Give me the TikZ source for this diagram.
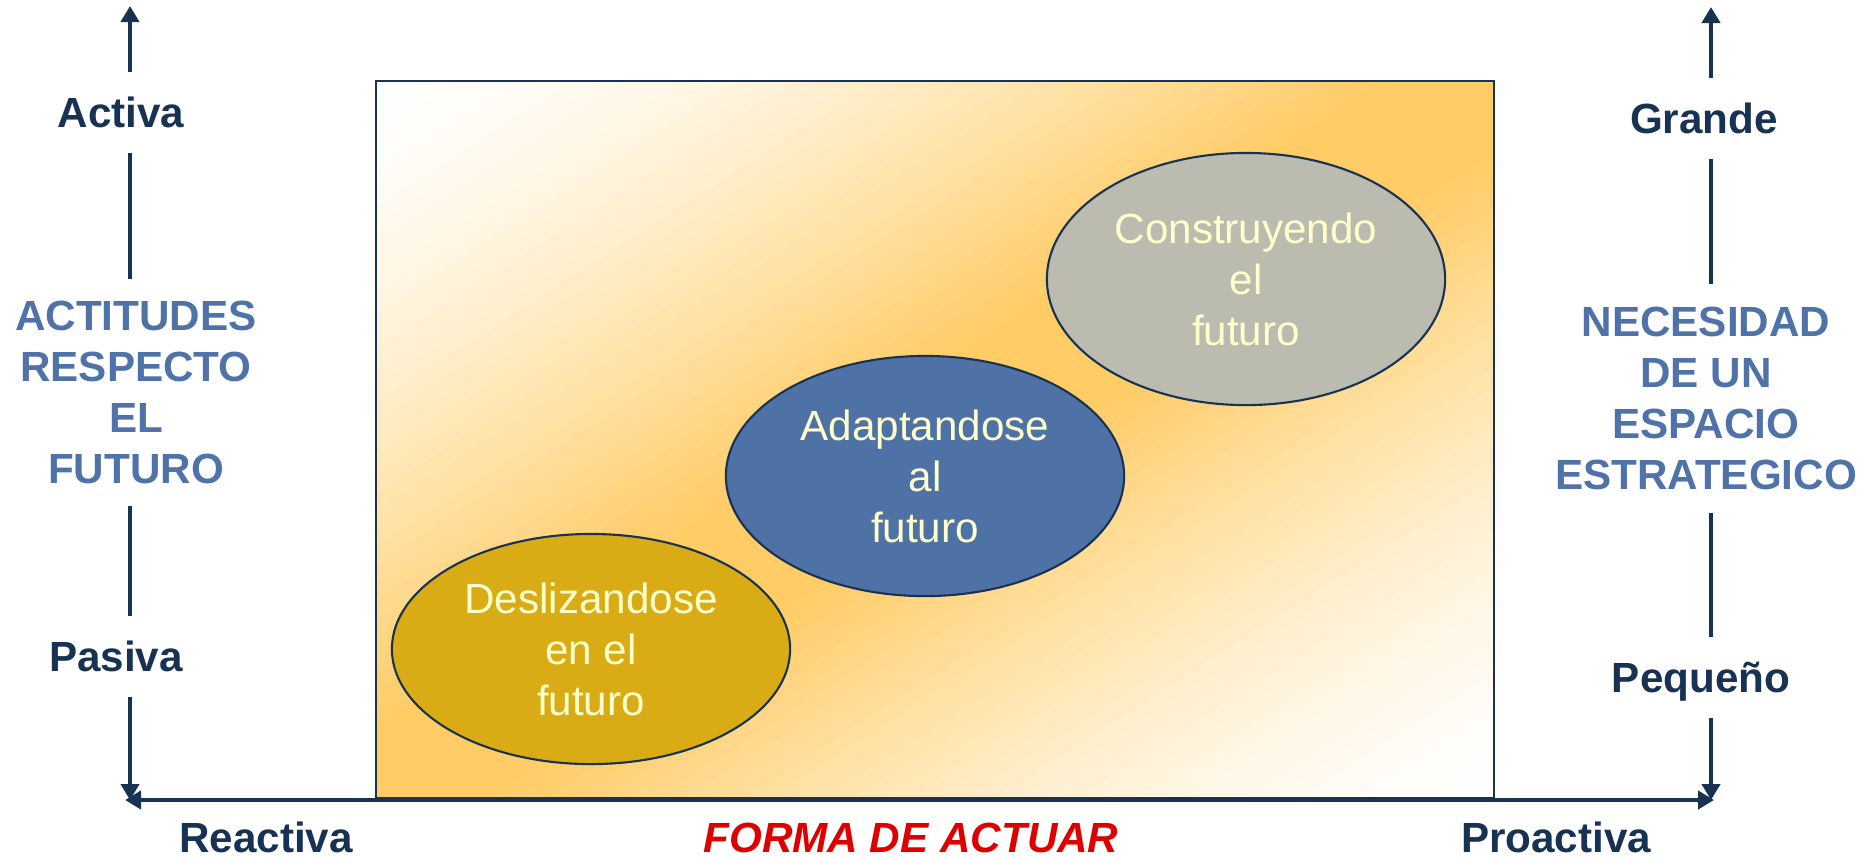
\documentclass[tikz,border=0pt]{standalone}
\usepackage{fontspec}
\setmainfont{Liberation Sans}
\usetikzlibrary{arrows.meta,shapes.geometric}
\definecolor{navy}{HTML}{173252}
\definecolor{titleblue}{HTML}{4F72A8}
\definecolor{bandorange}{HTML}{FFCC66}
\definecolor{ovalyellow}{HTML}{D9AC16}
\definecolor{ovalblue}{HTML}{4F72A6}
\definecolor{ovalgray}{HTML}{BBBBB0}
\definecolor{ovaltext}{HTML}{FFFFCC}
\definecolor{actred}{HTML}{DD0000}
\tikzset{
  axis/.style={navy, line width=1.4pt, >={Triangle[width=0.18cm,length=0.16cm]}},
  lab/.style={font=\bfseries\fontsize{12}{14.5}\selectfont, text=navy, inner sep=0pt, text height=0.3cm, text depth=0pt},
  ttl/.style={font=\bfseries\fontsize{12}{14.5}\selectfont, text=titleblue, align=center, inner sep=0pt},
  oval/.style={ellipse, draw=navy, line width=0.6pt, inner sep=0pt, minimum width=3.98cm, text=ovaltext, align=center, font=\fontsize{12}{14.5}\selectfont}
}
\begin{document}
\begin{tikzpicture}[x=0.01cm, y=-0.01cm]
  \useasboundingbox (0,0) rectangle (1874,856);
  % degradado en diagonal: blanco - naranja - blanco
  \begin{scope}[shift={(376,81)}, x=11.18cm, y=-7.17cm]
    \clip (0,0) rectangle (1,1);
    \foreach \i in {0,...,79} {
      \pgfmathsetmacro\ca{\i/40}
      \pgfmathsetmacro\cb{(\i+1)/40+0.01}
      \pgfmathsetmacro\pct{100*pow(min(1,(1-abs((\i+0.5)/40-1))/0.9),1.5)}
      \fill[bandorange!\pct!white] (\ca+2,-2) -- (\cb+2,-2) -- (\cb-2,2) -- (\ca-2,2) -- cycle;
    }
  \end{scope}
  \node[draw=navy, line width=0.6pt, inner sep=0pt, minimum width=11.18cm, minimum height=7.17cm] (plano) at (935,439.5) {};
  \node[oval, fill=ovalyellow, minimum height=2.30cm] (desliz) at (591,649) {Deslizandose\\en el\\futuro};
  \node[oval, fill=ovalblue, minimum height=2.40cm] (adapt) at (925,476) {Adaptandose\\al\\futuro};
  \node[oval, fill=ovalgray, minimum height=2.52cm] (constr) at (1246,279) {Construyendo\\el\\futuro};
  % eje izquierdo
  \coordinate (lTop) at (130,6);
  \coordinate (lBot) at (130,800);
  \node[lab, minimum height=0.79cm] (activa) at (121,112.5) {Activa};
  \node[ttl, minimum height=2.25cm] (actitudes) at (136,392.5) {ACTITUDES\\RESPECTO\\EL\\FUTURO};
  \node[lab, minimum height=0.79cm] (pasiva) at (116,656.5) {Pasiva};
  \draw[axis,->] (activa.north -| lTop) -- (lTop);
  \draw[axis] (activa.south -| lTop) -- (actitudes.north -| lTop);
  \draw[axis] (actitudes.south -| lTop) -- (pasiva.north -| lTop);
  \draw[axis,->] (pasiva.south -| lTop) -- (lBot);
  % eje derecho
  \coordinate (rTop) at (1711,7);
  \coordinate (rBot) at (1711,800);
  \node[lab, minimum height=0.79cm] (grande) at (1704,118.5) {Grande};
  \node[ttl, minimum height=2.27cm] (necesidad) at (1706,398.5) {NECESIDAD\\DE UN\\ESPACIO\\ESTRATEGICO};
  \node[lab, minimum height=0.79cm] (pequeno) at (1701,677.5) {Pequeño};
  \draw[axis,->] (grande.north -| rTop) -- (rTop);
  \draw[axis] (grande.south -| rTop) -- (necesidad.north -| rTop);
  \draw[axis] (necesidad.south -| rTop) -- (pequeno.north -| rTop);
  \draw[axis,->] (pequeno.south -| rTop) -- (rBot);
  % eje horizontal
  \coordinate (hL) at (125,800);
  \coordinate (hR) at (1714,800);
  \draw[axis,<->] (hL) -- (hR);
  \node[lab] (reactiva) at (266,837) {Reactiva};
  \node[lab, text=actred, font=\bfseries\itshape\fontsize{12}{14.5}\selectfont] (forma) at (911,837) {FORMA DE ACTUAR};
  \node[lab] (proactiva) at (1556,837) {Proactiva};
\end{tikzpicture}
\end{document}
